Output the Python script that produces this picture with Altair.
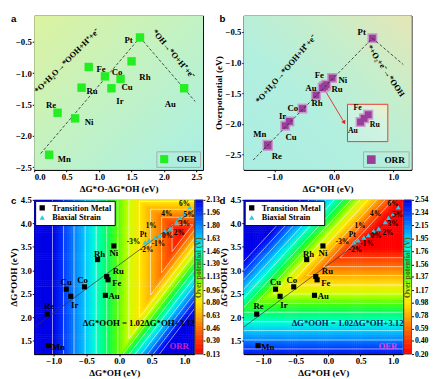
import altair as alt
import numpy as np
import pandas as pd

FONT = "Liberation Serif"

# ---------------- layout (plot-area sizes) ----------------
WA, HA = 174, 159
WB, HB = 173, 159
WC, HC = 165, 159
WD, HD = 164, 159

# ---------------- panel a : OER volcano ----------------
a_names = ["Pt", "Rh", "Fe", "Co", "Cu", "Ir", "Ru", "Re", "Ni", "Mn", "Au"]
a_x = [1.63, 1.50, 0.84, 1.09, 1.33, 1.19, 0.73, 0.36, 0.63, 0.23, 2.31]
a_y = [-0.43, -0.81, -0.90, -1.05, -1.09, -1.24, -1.23, -1.63, -1.72, -2.30, -1.24]
a_lab_dx = [-16, 8, 8, 7, 1, 5, 5, -12, 10, 9, -20]
a_lab_dy = [3, 16, 2, -4, 8, 13, 4, -8, 4, 4, 16]
a_vol_x = [[0.10, 1.63], [1.63, 2.48]]
a_vol_y = [[-2.28, -0.43], [-0.43, -1.45]]
a_rot_text = ["*O+H₂O→*OOH+H⁺+e⁻", "*OH→*O+H⁺+e⁻"]
a_rot_x = [0.50, 2.15]
a_rot_y = [-0.80, -0.69]
a_rot_angle = [315, 50]
A_XDOM, A_YDOM = [0.0, 2.6], [-2.54, -0.08]

# ---------------- panel b : ORR volcano ----------------
b_names = ["Pt", "Ni", "Fe", "Ru", "Au", "Rh", "Co", "Ir", "Cu", "Mn", "Re"]
b_x = [0.65, -0.03, -0.13, -0.16, -0.19, -0.30, -0.53, -0.75, -0.82, -1.12, -1.11]
b_y = [-0.60, -1.25, -1.36, -1.39, -1.41, -1.53, -1.75, -1.96, -2.03, -2.34, -2.36]
b_lab_dx = [-11, 11, -7, 13, -12, 1, -10, -7, 6, -8, 9]
b_lab_dy = [-6, 2, -10, 3, 0, 8, -1, -6, 12, -11, 10]
b_vol_x = [[-1.36, 0.65], [0.65, 1.17]]
b_vol_y = [[-2.59, -0.60], [-0.60, -1.03]]
b_rot_text = ["*O+H₂O→*OOH+H⁺+e⁻", "*+O₂+e⁻→*OOH"]
b_rot_x = [-0.81, 0.88]
b_rot_y = [-1.10, -1.13]
b_rot_angle = [311, 56]
b_inset_names = ["Fe", "Ru", "Au"]
b_inset_x = [0.58, 0.51, 0.45]
b_inset_y = [-1.85, -1.91, -1.97]
b_inset_lab_x = [0.40, 0.69, 0.32]
b_inset_lab_y = [-1.74, -2.02, -2.11]
b_inset_box = [0.23, 0.91, -2.29, -1.68]
b_small_box = [-0.24, -0.07, -1.46, -1.31]
b_arrow = [-0.15, -1.45, 0.17, -1.97]
B_XDOM, B_YDOM = [-1.52, 1.31], [-2.75, -0.23]

# ---------------- panels c, d : scaling maps ----------------
tm_names = ["Mn", "Re", "Cu", "Ir", "Co", "Rh", "Au", "Ru", "Fe", "Ni"]
tm_x = [-1.08, -1.10, -0.81, -0.74, -0.53, -0.33, -0.21, -0.19, -0.17, -0.08]
tm_y = [1.40, 2.07, 2.60, 2.45, 2.65, 3.23, 2.47, 2.87, 2.80, 3.52]
tm_lab_dx = [10, 2, 0, 4, -2, 2, 9, 12, 9, 0]
tm_lab_dy = [1, -8, -7, 9, -7, -6, 1, -6, 3, 7]
st_names = ["-3%", "-2%", "-1%", "0%", "1%", "2%", "3%", "4%", "5%", "6%"]
st_x = [0.40, 0.46, 0.55, 0.62, 0.70, 0.78, 0.88, 0.93, 1.00, 1.08]
st_y = [3.60, 3.64, 3.70, 3.75, 3.84, 3.89, 4.03, 4.12, 4.20, 4.34]
# where each strain label sits
st_lab_x = [0.22, 0.42, 0.60, 0.74, 0.49, 0.92, 1.00, 0.73, 1.07, 1.00]
st_lab_y = [3.60, 3.44, 3.56, 3.72, 3.95, 3.80, 3.99, 4.19, 4.17, 4.41]
pt_lab_xy = (0.37, 3.76)
fit_slope, fit_icpt = 1.02, 3.12
CD_XDOM, CD_YDOM = [-1.3, 1.15], [1.22, 4.5]

# overpotential surfaces: max of the limiting steps (ORR / OER)
ORR = dict(A=1.11, B=3.67, C=2.24, K=1.8)
OER = dict(A=1.30, B=3.67, C=2.60, K=1.5)
c_ticks = [0.13, 0.30, 0.46, 0.63, 0.80, 0.96, 1.13, 1.30, 1.46, 1.63, 1.80, 1.96, 2.13]
d_ticks = [0.20, 0.40, 0.59, 0.78, 0.98, 1.17, 1.37, 1.56, 1.76, 1.95, 2.15, 2.34, 2.54]

cmap_pos = [0, 0.08, 0.17, 0.25, 0.33, 0.42, 0.5, 0.58, 0.67, 0.75, 0.83, 0.92, 1.0]
cmap_col = ["#ff0000", "#ff3300", "#ff7300", "#ffb000", "#ffe600", "#c8ff00", "#50ff00",
            "#00ff5a", "#00ffd2", "#00c8ff", "#0082ff", "#0032ff", "#0000e6"]


def txt(**kw):
    base = dict(font=FONT, fontWeight="bold", color="black")
    base.update(kw)
    return base


def one():
    return pd.DataFrame({"k": [0]})


def enc_xy(xdom, ydom, xvals, yvals, xtitle, ytitle):
    X = alt.X("x:Q", scale=alt.Scale(domain=xdom, nice=False, zero=False),
              axis=alt.Axis(values=xvals, format=".1f", title=xtitle))
    Y = alt.Y("y:Q", scale=alt.Scale(domain=ydom, nice=False, zero=False),
              axis=alt.Axis(values=yvals, format=".1f", title=ytitle))
    return X, Y


def labels_df(names, xs, ys, dxs, dys, sx, sy):
    return pd.DataFrame({"text": names,
                         "x": [x + dx / sx for x, dx in zip(xs, dxs)],
                         "y": [y - dy / sy for y, dy in zip(ys, dys)]})


def vol_df(xs, ys):
    rows = []
    for s, (xx, yy) in enumerate(zip(xs, ys)):
        for o, (x, y) in enumerate(zip(xx, yy)):
            rows.append({"seg": s, "o": o, "x": x, "y": y})
    return pd.DataFrame(rows)


def letter(ch, dx, dy):
    return alt.Chart(one()).mark_text(text=ch, align="left", baseline="top",
                                       font="Liberation Sans", fontSize=10, fontWeight="bold",
                                       color="black").encode(x=alt.value(dx), y=alt.value(dy))


# ======== panel a ========
XA, YA = enc_xy(A_XDOM, A_YDOM, [0, 0.5, 1, 1.5, 2, 2.5], [-2.5, -2, -1.5, -1, -0.5],
                "ΔG*O-ΔG*OH (eV)", None)
sxA = WA / (A_XDOM[1] - A_XDOM[0])
syA = HA / (A_YDOM[1] - A_YDOM[0])
grad_a = {"gradient": "linear", "x1": 0, "y1": 0, "x2": 1, "y2": 1,
          "stops": [{"offset": 0, "color": "#dcf2a0"}, {"offset": 0.5, "color": "#c2f2c4"},
                    {"offset": 1, "color": "#a8efe6"}]}
bg_a = alt.Chart(one()).mark_rect(fill=grad_a).encode(
    x=alt.value(0), x2=alt.value(WA), y=alt.value(0), y2=alt.value(HA))
vol_a = alt.Chart(vol_df(a_vol_x, a_vol_y)).mark_line(
    strokeDash=[3, 2], color="#222", strokeWidth=0.8).encode(XA, YA, detail="seg:N", order="o:Q")
pts_a = alt.Chart(pd.DataFrame({"x": a_x, "y": a_y, "s": "OER"})).mark_square(
    size=75, opacity=1).encode(
    XA, YA,
    color=alt.Color("s:N", scale=alt.Scale(domain=["OER"], range=["#22ee22"]),
                    legend=alt.Legend(orient="bottom-right", title=None, offset=3, padding=3,
                                      strokeColor="#aaaaaa", labelFont=FONT, labelFontSize=9.5,
                                      labelFontWeight="bold", symbolType="square", symbolSize=70,
                                      symbolOpacity=1, labelOffset=8)))
lab_a = alt.Chart(labels_df(a_names, a_x, a_y, a_lab_dx, a_lab_dy, sxA, syA)).mark_text(
    **txt(align="left", baseline="middle", fontSize=9)).encode(XA, YA, text="text:N")
rot_a = alt.Chart(pd.DataFrame({"x": a_rot_x, "y": a_rot_y, "text": a_rot_text, "ang": a_rot_angle})
                  ).mark_text(**txt(fontSize=8.5, baseline="middle")).encode(
    XA, YA, text="text:N", angle=alt.Angle("ang:Q", scale=None))
panel_a = alt.layer(bg_a, vol_a, pts_a, lab_a, rot_a, letter("a", -24, -1)).properties(
    width=WA, height=HA)

# ======== panel b ========
XB, YB = enc_xy(B_XDOM, B_YDOM, [-1, 0, 1], [-2.5, -2, -1.5, -1, -0.5],
                "ΔG*OH (eV)", "Overpotential (eV)")
sxB = WB / (B_XDOM[1] - B_XDOM[0])
syB = HB / (B_YDOM[1] - B_YDOM[0])
grad_b = {"gradient": "linear", "x1": 1, "y1": 0, "x2": 0, "y2": 1,
          "stops": [{"offset": 0, "color": "#e6e6b6"}, {"offset": 0.3, "color": "#c6eecb"},
                    {"offset": 0.6, "color": "#b2efdf"}, {"offset": 1, "color": "#aaeee2"}]}
bg_b = alt.Chart(one()).mark_rect(fill=grad_b).encode(
    x=alt.value(0), x2=alt.value(WB), y=alt.value(0), y2=alt.value(HB))
grad_in = {"gradient": "linear", "x1": 1, "y1": 0, "x2": 0, "y2": 1,
           "stops": [{"offset": 0, "color": "#f2f0c4"}, {"offset": 0.35, "color": "#d2f3e0"},
                     {"offset": 1, "color": "#c2f1e4"}]}
box_df = pd.DataFrame({"x": [b_inset_box[0]], "x2": [b_inset_box[1]],
                       "y": [b_inset_box[2]], "y2": [b_inset_box[3]]})
inset_bg = alt.Chart(box_df).mark_rect(fill=grad_in, stroke="#e83a30", strokeWidth=1).encode(
    XB, YB, x2="x2:Q", y2="y2:Q")
small_df = pd.DataFrame({"x": [b_small_box[0]], "x2": [b_small_box[1]],
                         "y": [b_small_box[2]], "y2": [b_small_box[3]]})
small_box = alt.Chart(small_df).mark_rect(filled=False, color="#f08a8a", strokeWidth=1).encode(
    XB, YB, x2="x2:Q", y2="y2:Q")
arr_df = pd.DataFrame({"x": [b_arrow[0]], "y": [b_arrow[1]], "x2": [b_arrow[2]], "y2": [b_arrow[3]]})
arrow = alt.Chart(arr_df).mark_rule(color="#e82020", strokeWidth=0.9).encode(
    XB, YB, x2="x2:Q", y2="y2:Q")
head = alt.Chart(pd.DataFrame({"x": [b_arrow[2]], "y": [b_arrow[3]]})).mark_point(
    shape="triangle", filled=True, size=22, color="#e82020", angle=152, opacity=1).encode(XB, YB)
all_bx = b_x + b_inset_x
all_by = b_y + b_inset_y
halo_b = alt.Chart(pd.DataFrame({"x": all_bx, "y": all_by})).mark_square(
    size=105, color="#c98fc9", opacity=0.9).encode(XB, YB)
pts_b = alt.Chart(pd.DataFrame({"x": all_bx, "y": all_by, "s": "ORR"})).mark_square(
    size=50, opacity=1).encode(
    XB, YB,
    color=alt.Color("s:N", scale=alt.Scale(domain=["ORR"], range=["#993f99"]),
                    legend=alt.Legend(orient="bottom-right", title=None, offset=3, padding=3,
                                      strokeColor="#aaaaaa", labelFont=FONT, labelFontSize=9.5,
                                      labelFontWeight="bold", symbolType="square", symbolSize=80,
                                      symbolOpacity=1, symbolFillColor="#a24ca2", labelOffset=8)))
vol_b = alt.Chart(vol_df(b_vol_x, b_vol_y)).mark_line(
    strokeDash=[3, 2], color="#222", strokeWidth=0.8).encode(XB, YB, detail="seg:N", order="o:Q")
lab_b = alt.Chart(labels_df(b_names, b_x, b_y, b_lab_dx, b_lab_dy, sxB, syB)).mark_text(
    **txt(align="center", baseline="middle", fontSize=9)).encode(XB, YB, text="text:N")
lab_in = alt.Chart(pd.DataFrame({"text": b_inset_names, "x": b_inset_lab_x, "y": b_inset_lab_y})
                   ).mark_text(**txt(align="center", baseline="middle", fontSize=8)).encode(
    XB, YB, text="text:N")
rot_b = alt.Chart(pd.DataFrame({"x": b_rot_x, "y": b_rot_y, "text": b_rot_text, "ang": b_rot_angle})
                  ).mark_text(**txt(fontSize=8.5, baseline="middle")).encode(
    XB, YB, text="text:N", angle=alt.Angle("ang:Q", scale=None))
panel_b = alt.layer(bg_b, inset_bg, small_box, arrow, head, halo_b, pts_b, vol_b, lab_b, lab_in,
                    rot_b, letter("b", -25, -1)).properties(width=WB, height=HB)


# ======== panels c, d ========
def contour_df(levels, p, kind):
    rows = []
    A, B, C, K = p["A"], p["B"], p["C"], p["K"]
    for li, L in enumerate(levels):
        if kind == "orr":
            pts = [(A - L, B + L), (A - L, K * (A - L) + C - L), ((B + L - C + L) / K, B + L)]
        else:
            pts = [(A + L, B - L), (A + L, K * (A + L) + C + L), ((B - L - C - L) / K, B - L)]
        pts = pts + [pts[0]]
        for o, (x, y) in enumerate(pts):
            rows.append({"lev": li, "o": o, "x": x, "y": y})
    return pd.DataFrame(rows)


def map_panel(W, H, p, kind, ticks, eq_color, tag, tag_color, letter_ch, letter_dx):
    vmin, vmax = ticks[0], ticks[-1]
    X, Y = enc_xy(CD_XDOM, CD_YDOM, [-1, -0.5, 0, 0.5, 1], [1.5, 2, 2.5, 3, 3.5, 4, 4.5],
                  "ΔG*OH (eV)", "ΔG*OOH (eV)")
    sx = W / (CD_XDOM[1] - CD_XDOM[0])
    sy = H / (CD_YDOM[1] - CD_YDOM[0])
    cscale = alt.Scale(domain=[vmin + s * (vmax - vmin) for s in cmap_pos], range=cmap_col,
                       clamp=True, interpolate="rgb")
    NX, NY = 82, 80
    dx = (CD_XDOM[1] - CD_XDOM[0]) / NX
    dy = (CD_YDOM[1] - CD_YDOM[0]) / NY
    A, B, C, K = p["A"], p["B"], p["C"], p["K"]
    if kind == "orr":
        eta = f"max({A} - datum.xc, datum.yc - {B}, {C} - datum.yc + {K}*datum.xc)"
    else:
        eta = f"max(datum.xc - {A}, datum.yc - {K}*datum.xc - {C}, {B} - datum.yc)"
    heat = alt.Chart(alt.sequence(0, NX * NY, as_="i")).transform_calculate(
        ix=f"floor(datum.i / {NY})", iy=f"datum.i % {NY}"
    ).transform_calculate(
        x=f"{CD_XDOM[0]} + datum.ix*{dx}", x2=f"{CD_XDOM[0]} + (datum.ix+1.25)*{dx}",
        y=f"{CD_YDOM[0]} + datum.iy*{dy}", y2=f"{CD_YDOM[0]} + (datum.iy+1.25)*{dy}",
        xc=f"{CD_XDOM[0]} + (datum.ix+0.5)*{dx}", yc=f"{CD_YDOM[0]} + (datum.iy+0.5)*{dy}"
    ).transform_calculate(eta=eta).mark_rect(clip=True).encode(
        X, Y, x2="x2:Q", y2="y2:Q", fill=alt.Fill("eta:Q", scale=cscale, legend=None))
    cont = alt.Chart(contour_df(ticks[1:], p, kind)).mark_line(
        clip=True, color="white", strokeWidth=0.7, opacity=0.85).encode(
        X, Y, detail="lev:N", order="o:Q")
    fit_df = pd.DataFrame({"x": CD_XDOM, "y": [fit_slope * v + fit_icpt for v in CD_XDOM]})
    fit = alt.Chart(fit_df).mark_line(clip=True, color="#333", strokeWidth=0.7).encode(X, Y)
    types = ["Transition Metal", "Biaxial Strain"]
    pts_df = pd.DataFrame({"x": tm_x + st_x, "y": tm_y + st_y,
                           "type": [types[0]] * len(tm_x) + [types[1]] * len(st_x)})
    leg = alt.Legend(orient="top-left", title=None, offset=1, padding=3, strokeColor="black",
                     fillColor="white", labelFont=FONT, labelFontSize=8.5, labelFontWeight="bold",
                     symbolSize=30, rowPadding=1, labelLimit=200, symbolStrokeWidth=0,
                     labelOffset=6)
    pts = alt.Chart(pts_df).mark_point(filled=True, size=28, opacity=1).encode(
        X, Y,
        shape=alt.Shape("type:N", scale=alt.Scale(domain=types, range=["square", "triangle-up"]),
                        legend=leg),
        color=alt.Color("type:N", scale=alt.Scale(domain=types, range=["black", "#2ec8e6"]),
                        legend=leg))
    lab_tm = alt.Chart(labels_df(tm_names, tm_x, tm_y, tm_lab_dx, tm_lab_dy, sx, sy)).mark_text(
        **txt(align="center", baseline="middle", fontSize=9)).encode(X, Y, text="text:N")
    lab_st = alt.Chart(pd.DataFrame({"text": st_names + ["Pt"],
                                     "x": st_lab_x + [pt_lab_xy[0]],
                                     "y": st_lab_y + [pt_lab_xy[1]]})
                       ).mark_text(**txt(align="center", baseline="middle", fontSize=7.5)).encode(
        X, Y, text="text:N")
    eq = alt.Chart(pd.DataFrame({"x": [0.30], "y": [1.87], "text": ["ΔG*OOH = 1.02ΔG*OH+3.12"]})
                   ).mark_text(**txt(fontSize=9, color=eq_color)).encode(X, Y, text="text:N")
    tg = alt.Chart(pd.DataFrame({"x": [0.92], "y": [1.40], "text": [tag]})).mark_text(
        **txt(fontSize=9, color=tag_color)).encode(X, Y, text="text:N")
    inner = alt.layer(heat, cont, fit, pts, lab_tm, lab_st, eq, tg, letter(letter_ch, letter_dx, -4))
    ncb = 120
    step = (vmax - vmin) / ncb
    cb = alt.Chart(alt.sequence(0, ncb, as_="i")).transform_calculate(
        v=f"{vmin} + datum.i*{step}", v2=f"min({vmax}, {vmin} + (datum.i+1.4)*{step})"
    ).mark_rect().encode(
        x=alt.value(W + 1), x2=alt.value(W + 9),
        y=alt.Y("v:Q", scale=alt.Scale(domain=[vmin, vmax], nice=False, zero=False),
                axis=alt.Axis(orient="right", values=ticks, format=".2f", offset=9, domain=False,
                              title=None, labelFontSize=8, tickSize=2, labelPadding=1)),
        y2="v2:Q",
        fill=alt.Fill("v:Q", scale=cscale, legend=None))
    cb_border = alt.Chart(one()).mark_rect(filled=False, color="#444", strokeWidth=0.8).encode(
        x=alt.value(W + 1), x2=alt.value(W + 9), y=alt.value(0), y2=alt.value(H))
    cb_title = alt.Chart(one()).mark_text(
        **txt(text="Over potential (V)", angle=270, fontSize=8, color="#56620a",
              baseline="middle")).encode(x=alt.value(W + 5), y=alt.value(H * 0.44))
    return alt.layer(inner, cb, cb_border, cb_title).resolve_scale(y="independent").properties(
        width=W, height=H)


panel_c = map_panel(WC, HC, ORR, "orr", c_ticks, "black", "ORR", "#cc22cc", "c", -24)
panel_d = map_panel(WD, HD, OER, "oer", d_ticks, "#10106a", "OER", "#dd44dd", "d", -25)

chart = alt.concat(panel_a, panel_b, panel_c, panel_d, columns=2,
                   spacing={"row": 31, "column": 42}, bounds="flush", align="each",
                   padding=0).resolve_scale(
    color="independent", fill="independent", shape="independent"
).configure_axis(
    labelFont=FONT, titleFont=FONT, labelFontSize=9, titleFontSize=9.5,
    labelFontWeight="bold", titleFontWeight="bold", tickSize=2, labelPadding=1,
    titlePadding=2, domainColor="black", tickColor="black", labelColor="black",
    titleColor="black", grid=False
).configure_view(stroke="black", strokeWidth=1).properties(background="white")

chart.save("out.html", embed_options={"renderer": "svg", "actions": False})
